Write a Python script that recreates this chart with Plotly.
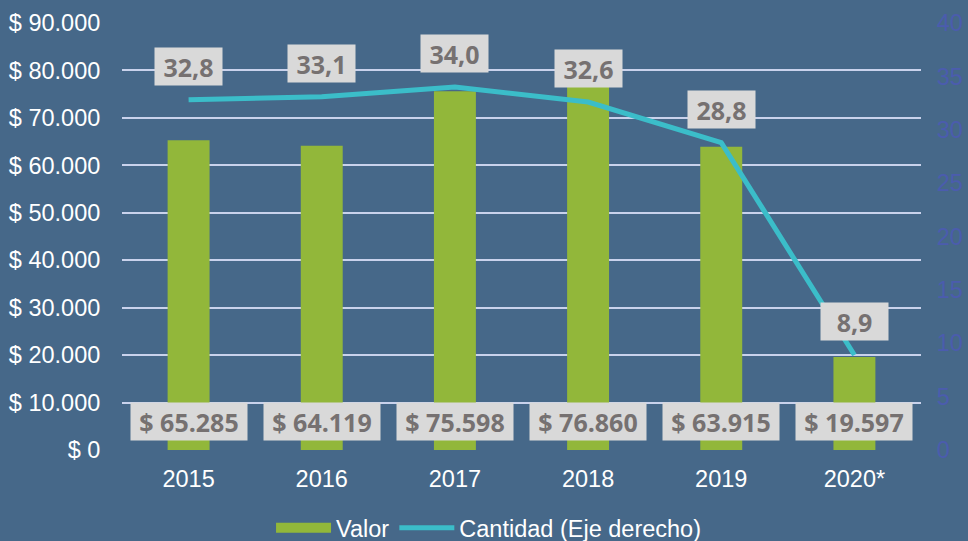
import plotly.graph_objects as go

# ── Data ────────────────────────────────────────────────────────
years = ["2015", "2016", "2017", "2018", "2019", "2020*"]
valor = [65285, 64119, 75598, 76860, 63915, 19597]
cantidad = [32.8, 33.1, 34.0, 32.6, 28.8, 8.9]

valor_labels = ["$ 65.285", "$ 64.119", "$ 75.598", "$ 76.860", "$ 63.915", "$ 19.597"]
cantidad_labels = ["32,8", "33,1", "34,0", "32,6", "28,8", "8,9"]

left_ticks = [0, 10000, 20000, 30000, 40000, 50000, 60000, 70000, 80000, 90000]
left_ticktext = ["$ 0", "$ 10.000", "$ 20.000", "$ 30.000", "$ 40.000",
                 "$ 50.000", "$ 60.000", "$ 70.000", "$ 80.000", "$ 90.000"]
right_ticks = [0, 5, 10, 15, 20, 25, 30, 35, 40]

# ── Styling ─────────────────────────────────────────────────────
BG = "#466889"
GREEN = "#92b73a"
CYAN = "#3bbdc9"
GRID = "#c9d2ec"
LABEL_BG = "#d9d9d9"
LABEL_FG = "#767171"
AXIS_FONT = dict(family="Liberation Sans, Arial", size=23.5, color="white")

fig = go.Figure()

fig.add_trace(go.Bar(
    x=years, y=valor, name="Valor",
    marker=dict(color=GREEN, line=dict(width=0)),
    showlegend=False,
))
# legend stand-in so the "Valor" key is drawn as a wide block
fig.add_trace(go.Scatter(
    x=[None], y=[None], mode="lines", name="Valor",
    line=dict(color=GREEN, width=13),
))
fig.add_trace(go.Scatter(
    x=years, y=cantidad, name="Cantidad (Eje derecho)",
    mode="lines", line=dict(color=CYAN, width=5),
    yaxis="y2",
))

label_font = dict(family="Open Sans", size=25, color=LABEL_FG, weight="bold")

# annotations use the category index (numeric-looking strings would be
# read as linear positions)
for i, lbl in enumerate(valor_labels):
    fig.add_annotation(
        x=i, y=0, yref="y", text=lbl, showarrow=False,
        yanchor="bottom", yshift=9, width=110, height=31,
        bgcolor=LABEL_BG, borderpad=3, font=label_font,
    )

for i, (v, lbl) in enumerate(zip(cantidad, cantidad_labels)):
    fig.add_annotation(
        x=i, y=v, yref="y2", text=lbl, showarrow=False,
        yanchor="bottom", yshift=14, width=61, height=31,
        bgcolor=LABEL_BG, borderpad=3, font=label_font,
    )

fig.update_layout(
    width=968, height=541,
    paper_bgcolor=BG, plot_bgcolor=BG,
    margin=dict(l=122, r=47, t=23, b=91),
    bargap=0.685,
    xaxis=dict(
        type="category", range=[-0.5, 5.5], automargin=False,
        showgrid=False, zeroline=False, showline=False,
        ticks="outside", ticklen=8, tickcolor="rgba(0,0,0,0)",
        tickfont=AXIS_FONT,
    ),
    yaxis=dict(
        range=[0, 90000], tickvals=left_ticks, ticktext=left_ticktext,
        automargin=False,
        showgrid=True, gridcolor=GRID, gridwidth=1.5,
        zeroline=False, showline=False,
        ticks="outside", ticklen=16, tickcolor="rgba(0,0,0,0)",
        tickfont=AXIS_FONT,
    ),
    yaxis2=dict(
        range=[0, 40], tickvals=right_ticks, overlaying="y", side="right",
        automargin=False,
        showgrid=False, zeroline=False, showline=False,
        ticks="outside", ticklen=10, tickcolor="rgba(0,0,0,0)",
        tickfont=dict(family="Liberation Sans, Arial", size=23.5, color="#4b5cae"),
    ),
    legend=dict(
        orientation="h",
        xref="container", x=0.28, xanchor="left",
        yref="container", y=0.024, yanchor="middle",
        font=AXIS_FONT, itemwidth=55,
        bgcolor="rgba(0,0,0,0)",
    ),
)

fig.write_html("out.html", config={"displayModeBar": False},
               post_script="document.body.style.margin='0';")
